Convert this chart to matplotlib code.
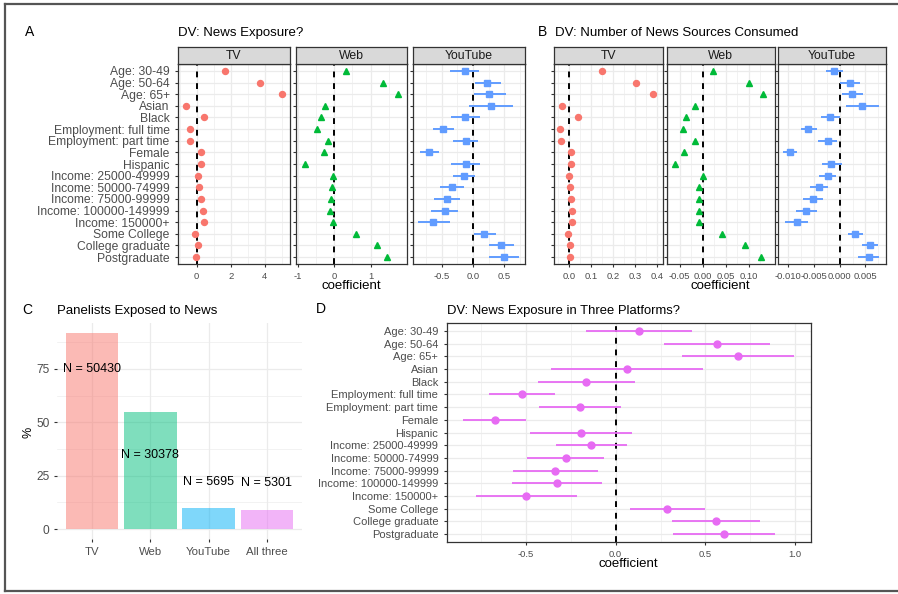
import matplotlib
matplotlib.use("Agg")
import matplotlib.pyplot as plt
from matplotlib.lines import Line2D
import numpy as np

plt.rcParams['font.family'] = ['Liberation Sans', 'DejaVu Sans']

# ---------------- data ----------------
predictors = ["Age: 30-49", "Age: 50-64", "Age: 65+", "Asian", "Black",
              "Employment: full time", "Employment: part time", "Female", "Hispanic",
              "Income: 25000-49999", "Income: 50000-74999", "Income: 75000-99999",
              "Income: 100000-149999", "Income: 150000+", "Some College",
              "College graduate", "Postgraduate"]

# Panel A: DV news exposure
a_tv = [1.68, 3.72, 5.0, -0.63, 0.45, -0.38, -0.41, 0.27, 0.27, 0.08, 0.14, 0.27, 0.37, 0.45, -0.10, 0.06, -0.02]
a_web = [0.33, 1.33, 1.76, -0.24, -0.37, -0.47, -0.16, -0.27, -0.79, -0.04, -0.06, -0.08, -0.11, -0.02, 0.60, 1.17, 1.45]
a_yt = [-0.13, 0.22, 0.26, 0.29, -0.12, -0.47, -0.11, -0.70, -0.11, -0.15, -0.34, -0.41, -0.45, -0.63, 0.18, 0.45, 0.49]
a_yt_lo = [-0.36, 0.04, 0.02, -0.06, -0.35, -0.63, -0.31, -0.85, -0.35, -0.32, -0.52, -0.62, -0.67, -0.87, 0.02, 0.25, 0.25]
a_yt_hi = [0.09, 0.45, 0.52, 0.64, 0.11, -0.30, 0.08, -0.54, 0.12, 0.03, -0.15, -0.20, -0.23, -0.37, 0.36, 0.66, 0.74]

# Panel B: DV number of news sources consumed
b_tv = [0.148, 0.303, 0.383, -0.032, 0.039, -0.042, -0.035, 0.008, 0.009, 0.0, 0.003, 0.008, 0.012, 0.012, -0.005, 0.006, 0.006]
b_web = [0.023, 0.101, 0.130, -0.016, -0.037, -0.043, -0.017, -0.040, -0.059, 0.0, -0.007, -0.008, -0.007, -0.007, 0.041, 0.091, 0.127]
b_yt = [-0.0011, 0.0020, 0.0024, 0.0044, -0.0018, -0.0061, -0.0023, -0.0097, -0.0017, -0.0023, -0.0040, -0.0052, -0.0065, -0.0084, 0.0030, 0.0058, 0.0056]
b_yt_lo = [-0.0027, 0.0001, 0.0004, 0.0012, -0.0036, -0.0075, -0.0042, -0.0110, -0.0035, -0.0040, -0.0058, -0.0071, -0.0085, -0.0106, 0.0017, 0.0043, 0.0036]
b_yt_hi = [0.0007, 0.0040, 0.0046, 0.0077, 0.0001, -0.0045, -0.0006, -0.0084, 0.0004, -0.0007, -0.0022, -0.0032, -0.0045, -0.0062, 0.0045, 0.0075, 0.0077]

# Panel C: panelists exposed to news
c_cats = ["TV", "Web", "YouTube", "All three"]
c_pct = [91.9, 55.0, 10.0, 9.2]
c_n = [50430, 30378, 5695, 5301]
c_label_y = [75.0, 34.5, 22.3, 21.6]

# Panel D: news exposure in three platforms
d_coef = [0.130, 0.563, 0.680, 0.065, -0.162, -0.520, -0.199, -0.673, -0.193, -0.136, -0.277, -0.335, -0.325, -0.496, 0.286, 0.558, 0.604]
d_lo = [-0.165, 0.271, 0.368, -0.357, -0.431, -0.704, -0.426, -0.850, -0.474, -0.333, -0.491, -0.569, -0.576, -0.779, 0.080, 0.312, 0.318]
d_hi = [0.426, 0.861, 0.994, 0.487, 0.108, -0.338, 0.028, -0.496, 0.089, 0.061, -0.063, -0.100, -0.076, -0.217, 0.498, 0.805, 0.887]

# ---------------- layout helpers ----------------
W, H = 898, 594
fig = plt.figure(figsize=(W / 100, H / 100), dpi=100)


def px(l, t, r, b):
    return [l / W, 1 - b / H, (r - l) / W, (b - t) / H]


def ftext(x, y, s, **kw):
    fig.text(x / W, 1 - y / H, s, **kw)


GRID = '#EBEBEB'
TICKC = '#333333'
LABC = '#4D4D4D'
RED, GREEN, BLUE, MAG = '#F8766D', '#00BA38', '#619CFF', '#E76BF3'
ypos = np.arange(len(predictors))


def style_bw(ax):
    for s in ax.spines.values():
        s.set_color('#333333')
        s.set_linewidth(0.9)
    ax.set_facecolor('white')
    ax.tick_params(axis='both', length=2.5, width=0.8, color=TICKC, labelcolor=LABC)


def facet(rect, label, vals, lo, hi, color, marker, ms, xlim, xticks, xticklabels, minor, show_y):
    l, t, r, b = rect
    ax = fig.add_axes(px(l, t, r, b))
    style_bw(ax)
    ax.set_ylim(len(predictors) - 0.4, -0.6)
    ax.set_xlim(*xlim)
    ax.set_yticks(ypos)
    if show_y:
        ax.set_yticklabels(predictors, fontsize=8.7)
    else:
        ax.set_yticklabels([])
    ax.set_xticks(xticks)
    ax.set_xticklabels(xticklabels, fontsize=6.8)
    ax.set_xticks(minor, minor=True)
    ax.tick_params(axis='x', which='minor', length=0)
    ax.grid(True, which='major', color=GRID, lw=0.9)
    ax.grid(True, which='minor', axis='x', color=GRID, lw=0.45)
    ax.set_axisbelow(True)
    ax.axvline(0, color='black', lw=1.4, ls=(0, (3, 3)), zorder=2)
    if lo is not None:
        ax.hlines(ypos, lo, hi, color=color, lw=1.4, zorder=3)
    ax.plot(vals, ypos, ls='none', marker=marker, color=color, ms=ms, zorder=4)
    # strip
    sax = fig.add_axes(px(l, 47, r, 64))
    sax.set_facecolor('#D9D9D9')
    sax.set_xticks([])
    sax.set_yticks([])
    for s in sax.spines.values():
        s.set_color('#333333')
        s.set_linewidth(0.9)
    sax.text(0.5, 0.45, label, transform=sax.transAxes, ha='center', va='center',
             fontsize=8.8, color='#1A1A1A')
    return ax


# ---------------- Panel A ----------------
facet((178, 64, 289.7, 264), "TV", a_tv, None, None, RED, 'o', 4.3,
      (-1.1, 5.47), [0, 2, 4], ["0", "2", "4"], [-1, 1, 3, 5], True)
facet((296, 64, 407, 264), "Web", a_web, None, None, GREEN, '^', 4.8,
      (-1.05, 2.0), [-1, 0, 1], ["-1", "0", "1"], [-0.5, 0.5, 1.5], False)
facet((413.3, 64, 525, 264), "YouTube", a_yt, a_yt_lo, a_yt_hi, BLUE, 's', 4.3,
      (-0.95, 0.83), [-0.5, 0.0, 0.5], ["-0.5", "0.0", "0.5"], [-0.75, -0.25, 0.25, 0.75], False)
ftext(25, 32, "A", fontsize=10, ha='left', va='center', color='black')
ftext(178, 33, "DV: News Exposure?", fontsize=9.5, ha='left', va='center', color='black')
ftext(351, 286, "coefficient", fontsize=9.5, ha='center', va='center', color='black')

# ---------------- Panel B ----------------
facet((554, 64, 662.7, 264), "TV", b_tv, None, None, RED, 'o', 4.3,
      (-0.068, 0.426), [0.0, 0.1, 0.2, 0.3, 0.4], ["0.0", "0.1", "0.2", "0.3", "0.4"],
      [-0.05, 0.05, 0.15, 0.25, 0.35], False)
facet((666.7, 64, 775, 264), "Web", b_web, None, None, GREEN, '^', 4.8,
      (-0.078, 0.157), [-0.05, 0.0, 0.05, 0.10], ["-0.05", "0.00", "0.05", "0.10"],
      [-0.075, -0.025, 0.025, 0.075, 0.125], False)
facet((778.3, 64, 886, 264), "YouTube", b_yt, b_yt_lo, b_yt_hi, BLUE, 's', 4.3,
      (-0.01195, 0.009), [-0.010, -0.005, 0.0, 0.005], ["-0.010", "-0.005", "0.000", "0.005"],
      [-0.0075, -0.0025, 0.0025, 0.0075], False)
ftext(538, 32, "B", fontsize=10, ha='left', va='center', color='black')
ftext(555, 33, "DV: Number of News Sources Consumed", fontsize=9.5, ha='left', va='center', color='black')
ftext(720, 286, "coefficient", fontsize=9.5, ha='center', va='center', color='black')

# ---------------- Panel C ----------------
axc = fig.add_axes(px(57, 323, 302, 539))
bar_cols = ['#F8766D', '#00BF7D', '#00B0F6', '#E76BF3']
xc = np.arange(len(c_cats))
axc.bar(xc, c_pct, width=0.9, color=bar_cols, alpha=0.5, zorder=2)
for xi, yl, n in zip(xc, c_label_y, c_n):
    axc.text(xi, yl, f"N = {n}", ha='center', va='center', fontsize=9, color='black', zorder=3)
axc.set_xlim(-0.6, len(c_cats) - 0.4)
axc.set_ylim(-4.6, 96.5)
axc.set_xticks(xc)
axc.set_xticklabels(c_cats, fontsize=8.2)
axc.set_yticks([0, 25, 50, 75])
axc.set_yticklabels(["0", "25", "50", "75"], fontsize=8.6)
axc.set_yticks([12.5, 37.5, 62.5, 87.5], minor=True)
axc.tick_params(axis='both', which='major', length=2, width=0.8, color=TICKC, labelcolor=LABC)
axc.tick_params(axis='y', which='minor', length=0)
axc.grid(True, which='major', color=GRID, lw=0.9)
axc.grid(True, which='minor', axis='y', color=GRID, lw=0.45)
axc.set_axisbelow(True)
for s in axc.spines.values():
    s.set_visible(False)
ftext(28, 432, "%", fontsize=9, rotation=90, ha='center', va='center', color='black')
ftext(22, 310, "C", fontsize=10, ha='left', va='center', color='black')
ftext(57, 311, "Panelists Exposed to News", fontsize=9.5, ha='left', va='center', color='black')

# ---------------- Panel D ----------------
axd = fig.add_axes(px(446.7, 323.3, 810.7, 541.7))
style_bw(axd)
axd.set_ylim(len(predictors) - 0.4, -0.6)
axd.set_xlim(-0.94, 1.086)
axd.set_yticks(ypos)
axd.set_yticklabels(predictors, fontsize=8.0)
axd.set_xticks([-0.5, 0.0, 0.5, 1.0])
axd.set_xticklabels(["-0.5", "0.0", "0.5", "1.0"], fontsize=6.8)
axd.set_xticks([-0.75, -0.25, 0.25, 0.75], minor=True)
axd.tick_params(axis='x', which='minor', length=0)
axd.grid(True, which='major', color=GRID, lw=0.9)
axd.grid(True, which='minor', axis='x', color=GRID, lw=0.45)
axd.set_axisbelow(True)
axd.axvline(0, color='black', lw=1.4, ls=(0, (3, 3)), zorder=2)
axd.hlines(ypos, d_lo, d_hi, color=MAG, lw=1.3, zorder=3)
axd.plot(d_coef, ypos, ls='none', marker='o', color=MAG, ms=5, zorder=4)
ftext(316, 309, "D", fontsize=10, ha='left', va='center', color='black')
ftext(447, 311, "DV: News Exposure in Three Platforms?", fontsize=9.4, ha='left', va='center', color='black')
ftext(628, 564, "coefficient", fontsize=9.5, ha='center', va='center', color='black')

# ---------------- outer frame ----------------
frame_c = '#555555'
fig.add_artist(Line2D([5 / W, 5 / W], [1 - 4 / H, 1 - 591 / H], color=frame_c, lw=1.6))
fig.add_artist(Line2D([5 / W, 897 / W], [1 - 4 / H, 1 - 4 / H], color=frame_c, lw=1.6))
fig.add_artist(Line2D([5 / W, 897 / W], [1 - 591 / H, 1 - 591 / H], color=frame_c, lw=1.6))

fig.savefig("out.png", dpi=100)
